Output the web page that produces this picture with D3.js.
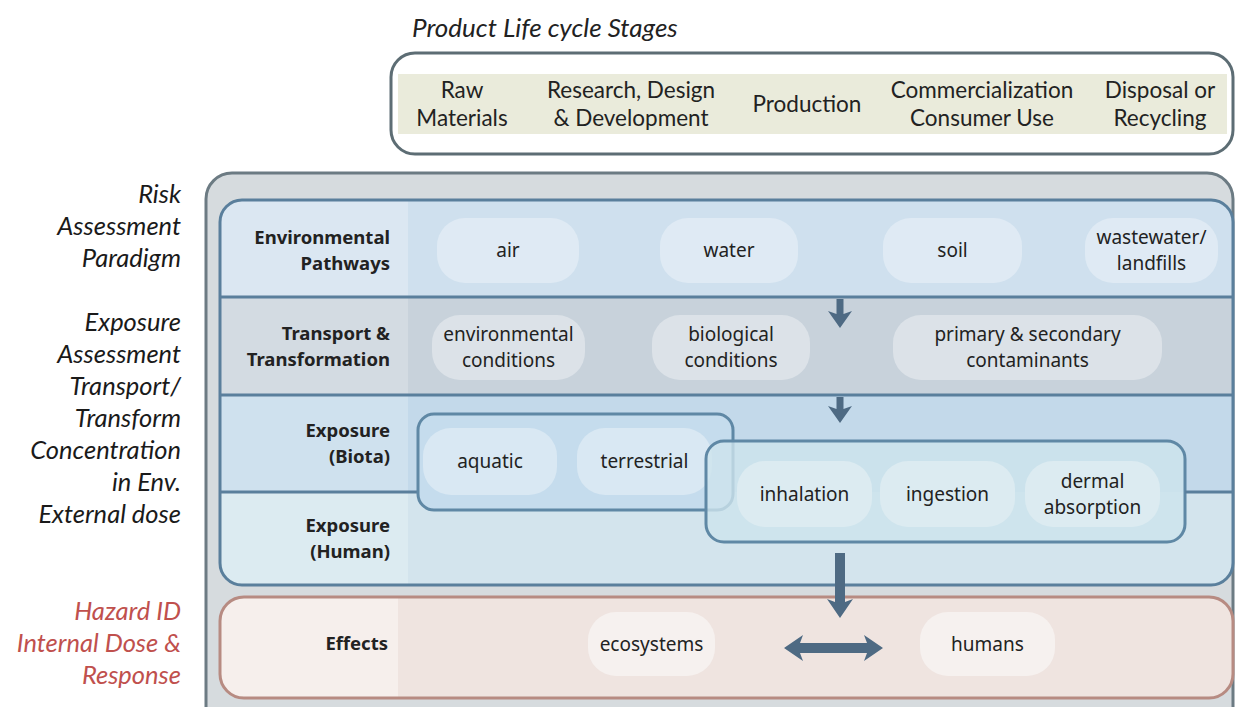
<!DOCTYPE html>
<html>
<head>
<meta charset="utf-8">
<script src="https://cdn.jsdelivr.net/npm/d3@7"></script>
<style>
  body { margin: 0; background: #fff; }
  svg { display: block; }
</style>
</head>
<body>
<svg id="drawing_region"></svg>
<script>
// ---- data ----
const title = 'Product Life cycle Stages';
const stages = [['Raw', 'Materials'], ['Research, Design', '& Development'], ['Production'],
                ['Commercialization', 'Consumer Use'], ['Disposal or', 'Recycling']];
const sideBlack = ['Risk', 'Assessment', 'Paradigm', '', 'Exposure', 'Assessment', 'Transport/',
                   'Transform', 'Concentration', 'in Env.', 'External dose'];
const sideRed = ['Hazard ID', 'Internal Dose &', 'Response'];
const rowLabels = [['Environmental', 'Pathways'], ['Transport &', 'Transformation'],
                   ['Exposure', '(Biota)'], ['Exposure', '(Human)']];
const pathways = [['air'], ['water'], ['soil'], ['wastewater/', 'landfills']];
const transport = [['environmental', 'conditions'], ['biological', 'conditions'], ['primary & secondary', 'contaminants']];
const biota = [['aquatic'], ['terrestrial']];
const human = [['inhalation'], ['ingestion'], ['dermal', 'absorption']];
const effects = [['ecosystems'], ['humans']];

// ---- layout ----
const W = 1236, H = 707;
const stageX = [462, 631, 807, 982, 1160];
const rowY = [200, 297, 395, 492, 585];
const pathwayX = [[437, 579], [660, 798], [883, 1022], [1085, 1218]];
const transportX = [[432, 585], [652, 810], [893, 1162]];
const biotaX = [[423, 557], [577, 712]];
const humanX = [[737, 872], [880, 1015], [1025, 1160]];
const effectsX = [[588, 715], [920, 1055]];

const svg = d3.select('#drawing_region').attr('width', W).attr('height', H);

const sideFont = 'Lato, "Open Sans", sans-serif';
const boxFont = '"Noto Sans", "Open Sans", sans-serif';

function multiline(g, lines, x, cy, size, lh, anchor) {
  const t = g.append('text')
    .attr('x', x)
    .attr('text-anchor', anchor || 'middle')
    .attr('font-size', size);
  const y0 = cy - (lines.length - 1) * lh / 2;
  lines.forEach((l, i) => {
    t.append('tspan').attr('x', x).attr('y', y0 + i * lh).attr('dy', '0.35em').text(l);
  });
  return t;
}

// ---- title + stage box ----
svg.append('text')
  .attr('x', 412).attr('y', 28).attr('dy', '0.35em')
  .attr('font-family', sideFont).attr('font-style', 'italic')
  .attr('font-size', 26).attr('fill', '#222')
  .text(title);

svg.append('rect')
  .attr('x', 391).attr('y', 53).attr('width', 842).attr('height', 101)
  .attr('rx', 24).attr('fill', '#fff')
  .attr('stroke', '#5d6d74').attr('stroke-width', 3);
svg.append('rect')
  .attr('x', 398).attr('y', 74).attr('width', 829).attr('height', 60)
  .attr('fill', '#eaebdb');

const stageG = svg.append('g').attr('font-family', sideFont).attr('fill', '#222');
stages.forEach((s, i) => multiline(stageG, s, stageX[i], 104, 22.5, 28));

// ---- side labels ----
const sideG = svg.append('g').attr('font-family', sideFont).attr('font-style', 'italic').attr('font-size', 25.5);
sideBlack.forEach((l, i) => {
  if (!l) return;
  sideG.append('text').attr('x', 181).attr('y', 194 + i * 32).attr('dy', '0.35em')
    .attr('text-anchor', 'end').attr('fill', '#1a1a1a').text(l);
});
sideRed.forEach((l, i) => {
  sideG.append('text').attr('x', 181).attr('y', 611 + i * 32).attr('dy', '0.35em')
    .attr('text-anchor', 'end').attr('fill', '#c0504d').text(l);
});

// ---- outer gray frame ----
svg.append('rect')
  .attr('x', 206).attr('y', 173).attr('width', 1027).attr('height', 560)
  .attr('rx', 26).attr('fill', '#d6dbde')
  .attr('stroke', '#6c7b83').attr('stroke-width', 3);

// ---- blue panel ----
const defs = svg.append('defs');
defs.append('clipPath').attr('id', 'blueClip')
  .append('rect').attr('x', 220).attr('y', rowY[0]).attr('width', 1013).attr('height', rowY[4] - rowY[0]).attr('rx', 22);

const rowFill = ['#cfe0ee', '#c8d2db', '#c3d9ea', '#d3e4ed'];
const rowLabelFill = ['#dbe7f2', '#d3dbe2', '#cfe1ee', '#dcebf1'];
const blue = svg.append('g').attr('clip-path', 'url(#blueClip)');
rowFill.forEach((c, i) => {
  blue.append('rect').attr('x', 220).attr('y', rowY[i]).attr('width', 1013).attr('height', rowY[i + 1] - rowY[i]).attr('fill', c);
  blue.append('rect').attr('x', 220).attr('y', rowY[i]).attr('width', 188).attr('height', rowY[i + 1] - rowY[i]).attr('fill', rowLabelFill[i]);
});
const lineC = '#5a7f9c';
blue.append('line').attr('x1', 220).attr('x2', 1233).attr('y1', rowY[1]).attr('y2', rowY[1]).attr('stroke', lineC).attr('stroke-width', 3);
blue.append('line').attr('x1', 220).attr('x2', 1233).attr('y1', rowY[2]).attr('y2', rowY[2]).attr('stroke', lineC).attr('stroke-width', 3);
blue.append('line').attr('x1', 220).attr('x2', 420).attr('y1', rowY[3]).attr('y2', rowY[3]).attr('stroke', lineC).attr('stroke-width', 3);

svg.append('rect')
  .attr('x', 220).attr('y', rowY[0]).attr('width', 1013).attr('height', rowY[4] - rowY[0])
  .attr('rx', 22).attr('fill', 'none').attr('stroke', lineC).attr('stroke-width', 3);

// ---- effects panel ----
defs.append('clipPath').attr('id', 'redClip')
  .append('rect').attr('x', 220).attr('y', 597).attr('width', 1013).attr('height', 101).attr('rx', 24);
const red = svg.append('g').attr('clip-path', 'url(#redClip)');
red.append('rect').attr('x', 220).attr('y', 597).attr('width', 1013).attr('height', 101).attr('fill', '#efe4e0');
red.append('rect').attr('x', 220).attr('y', 597).attr('width', 178).attr('height', 101).attr('fill', '#f6efec');
svg.append('rect')
  .attr('x', 220).attr('y', 597).attr('width', 1013).attr('height', 101)
  .attr('rx', 24).attr('fill', 'none').attr('stroke', '#b78b82').attr('stroke-width', 3);

// ---- row labels ----
const labG = svg.append('g').attr('font-family', boxFont).attr('font-weight', 'bold').attr('fill', '#222');
const rowLabelY = [251, 347, 444, 539];
rowLabels.forEach((l, i) => multiline(labG, l, 390, rowLabelY[i], 18.5, 26, 'end'));
multiline(labG, ['Effects'], 388, 644, 18.5, 26, 'end');

// ---- pills ----
function pills(items, xs, y0, y1, fill, size) {
  const g = svg.append('g').attr('font-family', boxFont).attr('fill', '#222');
  items.forEach((p, i) => {
    g.append('rect')
      .attr('x', xs[i][0]).attr('y', y0).attr('width', xs[i][1] - xs[i][0]).attr('height', y1 - y0)
      .attr('rx', 28).attr('fill', fill);
    multiline(g, p, (xs[i][0] + xs[i][1]) / 2, (y0 + y1) / 2, size || 19, 26);
  });
}

pills(pathways, pathwayX, 218, 283, '#dfeaf4');
pills(transport, transportX, 315, 380, '#dce2e8');

// biota group, then its pills
svg.append('rect').attr('x', 418).attr('y', 414).attr('width', 315).attr('height', 96)
  .attr('rx', 16).attr('fill', '#c5dced').attr('stroke', '#5f88a5').attr('stroke-width', 3);
pills(biota, biotaX, 428, 495, '#d9e8f3');

// human group over it, then its pills
svg.append('rect').attr('x', 706).attr('y', 441).attr('width', 479).attr('height', 101)
  .attr('rx', 18).attr('fill', 'rgba(205,228,236,0.8)').attr('stroke', '#5f88a5').attr('stroke-width', 3);
svg.append('line').attr('x1', 1185).attr('x2', 1233).attr('y1', rowY[3]).attr('y2', rowY[3]).attr('stroke', lineC).attr('stroke-width', 3);
pills(human, humanX, 461, 527, '#dcebf1');

pills(effects, effectsX, 612, 676, '#f6f1ef');

// ---- arrows ----
const arrowC = '#4e6a83';
function downArrow(x, y0, y1, shaft, head, headLen) {
  const p = d3.path();
  p.moveTo(x - shaft / 2, y0);
  p.lineTo(x + shaft / 2, y0);
  p.lineTo(x + shaft / 2, y1 - headLen);
  p.lineTo(x + head / 2, y1 - headLen - 3);
  p.lineTo(x, y1);
  p.lineTo(x - head / 2, y1 - headLen - 3);
  p.lineTo(x - shaft / 2, y1 - headLen);
  p.closePath();
  svg.append('path').attr('d', p.toString()).attr('fill', arrowC);
}
downArrow(840, 299, 328, 7, 24, 14);
downArrow(840, 397, 423, 7, 24, 14);
downArrow(840, 553, 618, 10, 26, 16);

const dbl = d3.path();
const ay = 648, ax0 = 784, ax1 = 883, hw = 13, hl = 16, sw = 5;
dbl.moveTo(ax0, ay);
dbl.lineTo(ax0 + hl + 3, ay - hw);
dbl.lineTo(ax0 + hl, ay - sw);
dbl.lineTo(ax1 - hl, ay - sw);
dbl.lineTo(ax1 - hl - 3, ay - hw);
dbl.lineTo(ax1, ay);
dbl.lineTo(ax1 - hl - 3, ay + hw);
dbl.lineTo(ax1 - hl, ay + sw);
dbl.lineTo(ax0 + hl, ay + sw);
dbl.lineTo(ax0 + hl + 3, ay + hw);
dbl.closePath();
svg.append('path').attr('d', dbl.toString()).attr('fill', arrowC);
</script>
</body>
</html>
